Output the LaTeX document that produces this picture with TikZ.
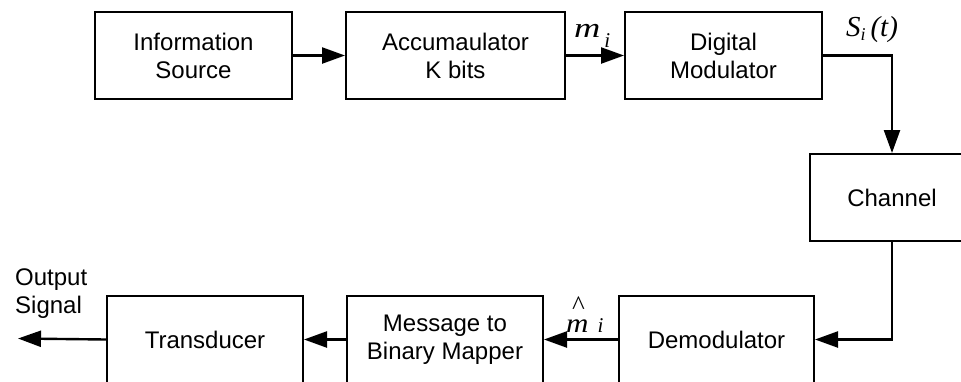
\documentclass[tikz,border=0pt]{standalone}
\usepackage{fontspec}
\setmainfont{Liberation Sans}
\newfontfamily\tms{Liberation Serif}
\usetikzlibrary{arrows.meta}
\begin{document}
\begin{tikzpicture}[x=1pt,y=-1pt,
  blk/.style={draw, line width=2pt, minimum height=87pt, inner sep=0pt,
    align=center, font=\fontsize{24}{28}\selectfont},
  conn/.style={line width=2.4pt, -{Triangle[length=23pt,width=16pt]}},
  lbl/.style={inner sep=0pt, font=\fontsize{24}{28}\selectfont}
]
\path[use as bounding box, clip] (0,0) rectangle (961,381);
\fill[white] (0,0) rectangle (961,381);
% top row
\node[blk, minimum width=197pt] (src) at (193.5,55.5) {Information\\Source};
\node[blk, minimum width=219pt] (acc) at (455.5,55.5) {Accumaulator\\K bits};
\node[blk, minimum width=197pt] (mod) at (723.5,55.5) {Digital\\Modulator};
% channel (right side runs past the picture edge)
\node[blk, minimum width=164pt] (chan) at (892,197.5) {Channel};
% bottom row (bottom edges run past the picture edge)
\node[blk, minimum width=195pt] (dem) at (716.5,339.5) {Demodulator};
\node[blk, minimum width=196pt] (map) at (445,339.5) {Message to\\Binary Mapper};
\node[blk, minimum width=196pt] (tra) at (205,339.5) {Transducer};
\coordinate (out) at (18,338.5);
% connectors
\draw[conn] (src.east) -- (acc.west);
\draw[conn] (acc.east) -- (mod.west);
\draw[conn] (mod.east) -| (chan.north);
\draw[conn] (chan.south) |- (dem.east);
\draw[conn] (dem.west) -- (map.east);
\draw[conn] (map.west) -- (tra.east);
\draw[conn] (tra.west) -- (out);
% labels
\node[lbl, anchor=base west] (mi) at (574,37)
  {\fontsize{28}{28}\selectfont\tms\itshape\scalebox{1.3}[1]{m}\hspace{4pt}\raisebox{-10pt}{\fontsize{21}{21}\selectfont i}};
\node[lbl, anchor=base west] (si) at (846,36)
  {\fontsize{29}{29}\selectfont\tms\itshape S\raisebox{-4pt}{\fontsize{18}{18}\selectfont i}\,(t)};
\node[lbl, anchor=base west] (mhat) at (566,332)
  {\fontsize{27}{27}\selectfont\tms\itshape\shortstack[c]{\^{}\\[2pt]\scalebox{1.15}[1]{m}}\hspace{9pt}{\fontsize{21}{21}\selectfont i}};
\node[lbl, anchor=north west, align=left] (osig) at (15,269) {Output\\Signal};
\end{tikzpicture}
\end{document}
